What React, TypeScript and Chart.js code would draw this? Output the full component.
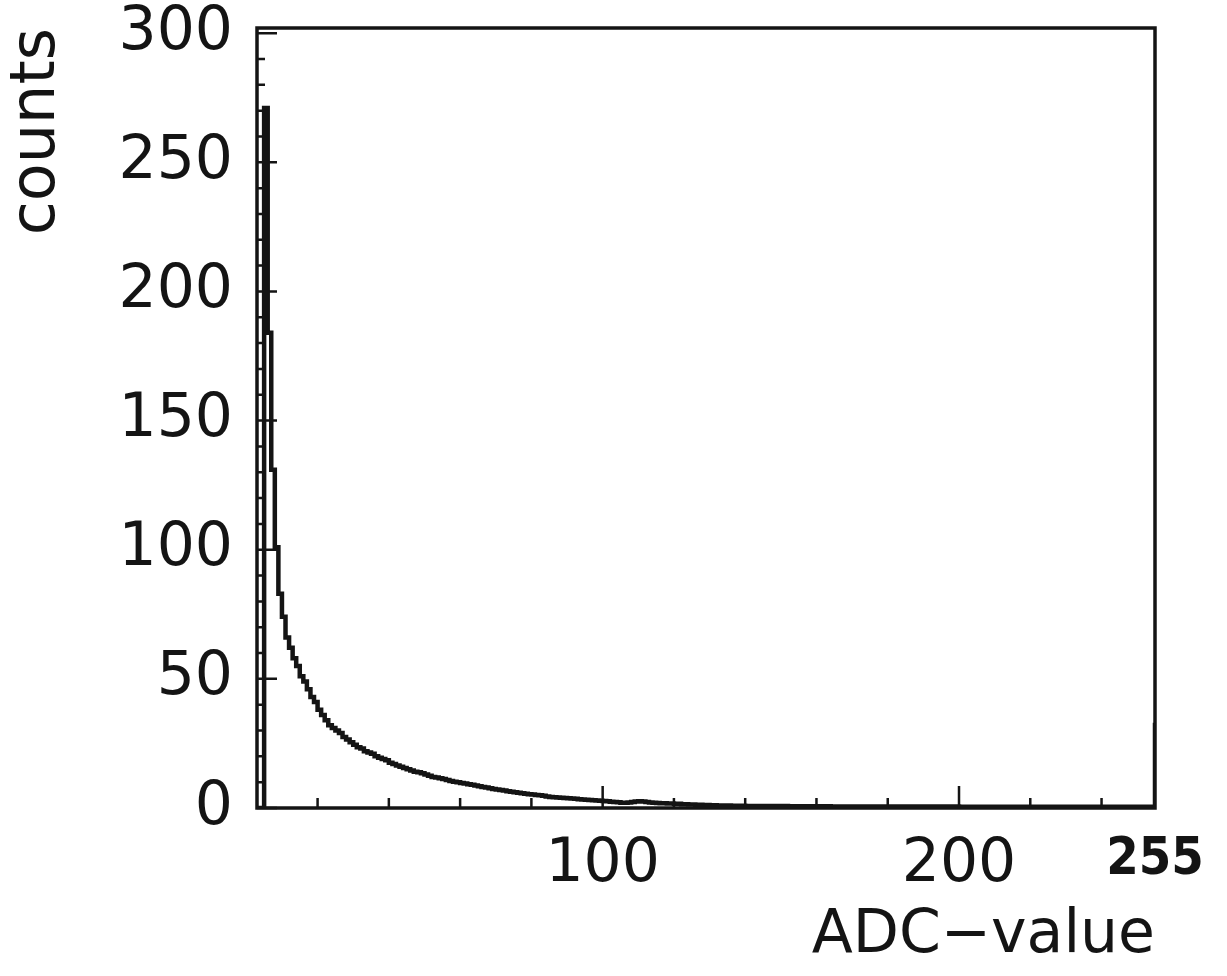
import React, { useEffect, useRef } from 'react';
import { Chart, registerables } from 'chart.js';

Chart.register(...registerables);

// ---- data ----
const ADC_MIN = 3;
const ADC_MAX = 255;
const Y_MAX = 302;

// counts per ADC channel 0..255
const COUNTS: number[] = [
  0, 0, 0, 0, 0, 271, 184, 131, 101, 83,
  74, 66, 62, 58, 55, 51, 49, 46, 43, 41,
  38, 36, 34, 32, 31, 30, 29, 27.5, 26.5, 25.5,
  24.5, 23.5, 23, 22, 21.5, 21, 20, 19.5, 19, 18.5,
  17.5, 17, 16.5, 16, 15.5, 15, 14.5, 14, 13.8, 13.5,
  13, 12.5, 12, 11.8, 11.5, 11.2, 10.8, 10.5, 10.2, 10,
  9.7, 9.5, 9.2, 9, 8.7, 8.4, 8.1, 7.9, 7.6, 7.4,
  7.2, 7, 6.8, 6.5, 6.3, 6.1, 5.9, 5.7, 5.5, 5.3,
  5.2, 5, 4.9, 4.7, 4.5, 4.3, 4.2, 4.1, 4, 3.9,
  3.8, 3.7, 3.6, 3.4, 3.3, 3.2, 3.1, 3, 2.9, 2.8,
  2.7, 2.6, 2.4, 2.3, 2.2, 2, 2, 2.1, 2.3, 2.5,
  2.6, 2.5, 2.3, 2.1, 2, 1.9, 1.8, 1.8, 1.7, 1.7,
  1.6, 1.6, 1.5, 1.5, 1.4, 1.4, 1.3, 1.3, 1.2, 1.2,
  1.1, 1.1, 1, 1, 1, 1, 0.9, 0.9, 0.9, 0.9,
  0.8, 0.8, 0.8, 0.8, 0.8, 0.8, 0.8, 0.8, 0.8, 0.8,
  0.8, 0.8, 0.7, 0.7, 0.7, 0.7, 0.7, 0.7, 0.7, 0.7,
  0.7, 0.7, 0.7, 0.7, 0.6, 0.6, 0.6, 0.6, 0.6, 0.6,
  0.6, 0.6, 0.6, 0.6, 0.6, 0.6, 0.6, 0.6, 0.6, 0.6,
  0.6, 0.6, 0.6, 0.6, 0.6, 0.6, 0.6, 0.6, 0.6, 0.6,
  0.6, 0.6, 0.6, 0.6, 0.6, 0.6, 0.6, 0.6, 0.6, 0.6,
  0.5, 0.5, 0.5, 0.5, 0.5, 0.5, 0.5, 0.5, 0.5, 0.5,
  0.5, 0.5, 0.5, 0.5, 0.5, 0.5, 0.5, 0.5, 0.5, 0.5,
  0.5, 0.5, 0.5, 0.5, 0.5, 0.5, 0.5, 0.5, 0.5, 0.5,
  0.5, 0.5, 0.5, 0.5, 0.5, 0.5, 0.5, 0.5, 0.5, 0.5,
  0.5, 0.5, 0.5, 0.5, 0.5, 0.5, 0.5, 0.5, 0.5, 0.5,
  0.5, 0.5, 0.5, 0.5, 0.5, 33,
];

const X_TICKS = [20, 40, 60, 80, 100, 120, 140, 160, 180, 200, 220, 240, 255];
const X_LABELS = [100, 200, 255];
const Y_TICK_STEP = 10;
const Y_LABELS = [0, 50, 100, 150, 200, 250, 300];

const X_TITLE = 'ADC\u2212value';
const Y_TITLE = 'counts';

const INK = '#141414';
const FONT = '"DejaVu Sans", sans-serif';

const frameAndTicks = {
  id: 'frameAndTicks',
  afterDatasetsDraw(chart: any) {
    const { ctx, chartArea: a, scales } = chart;
    ctx.save();
    ctx.strokeStyle = INK;
    ctx.lineWidth = 3.5;
    ctx.strokeRect(a.left, a.top, a.right - a.left, a.bottom - a.top);
    ctx.lineWidth = 2.5;
    ctx.beginPath();
    scales.y.ticks.forEach((t: any) => {
      const y = scales.y.getPixelForValue(t.value);
      const len = t.value % 50 === 0 ? 20 : 8;
      ctx.moveTo(a.left, y);
      ctx.lineTo(a.left + len, y);
    });
    scales.x.ticks.forEach((t: any) => {
      if (t.value >= ADC_MAX) return;
      const x = scales.x.getPixelForValue(t.value);
      const len = t.value % 100 === 0 ? 22 : 10;
      ctx.moveTo(x, a.bottom);
      ctx.lineTo(x, a.bottom - len);
    });
    ctx.stroke();
    ctx.restore();
  },
};

export default function App() {
  const ref = useRef<HTMLCanvasElement | null>(null);

  useEffect(() => {
    if (!ref.current) return;
    const points: { x: number; y: number }[] = [];
    for (let i = ADC_MIN; i < COUNTS.length; i++) points.push({ x: i, y: COUNTS[i] });
    points.push({ x: COUNTS.length, y: COUNTS[COUNTS.length - 1] });

    const chart = new Chart(ref.current, {
      type: 'line',
      data: {
        datasets: [
          {
            data: points,
            stepped: 'before',
            borderColor: INK,
            borderWidth: 4.5,
            pointRadius: 0,
            fill: false,
            tension: 0,
          },
        ],
      },
      options: {
        responsive: false,
        animation: false,
        events: [],
        layout: { padding: { top: 28, right: 72, left: 0, bottom: 0 } },
        plugins: {
          legend: { display: false },
          tooltip: { enabled: false },
        },
        scales: {
          x: {
            type: 'linear',
            min: ADC_MIN,
            max: ADC_MAX,
            afterBuildTicks: (s: any) => {
              s.ticks = X_TICKS.map((v) => ({ value: v }));
            },
            afterFit: (s: any) => {
              s.height = 168;
              s.paddingLeft = 0;
              s.paddingRight = 0;
            },
            grid: { display: false, drawTicks: false },
            border: { display: false },
            ticks: {
              autoSkip: false,
              maxRotation: 0,
              padding: 21,
              color: INK,
              font: (c: any) =>
                c.tick && c.tick.value === 255
                  ? { family: '"DejaVu Sans Condensed", "DejaVu Sans", sans-serif', size: 52, weight: 'bold' }
                  : { family: FONT, size: 60 },
              callback: (v: any) => (X_LABELS.includes(Number(v)) ? String(v) : ''),
            },
            title: {
              display: true,
              text: X_TITLE,
              align: 'end',
              color: INK,
              font: { family: FONT, size: 60 },
              padding: { top: 0, bottom: 4 },
            },
          },
          y: {
            type: 'linear',
            min: 0,
            max: Y_MAX,
            afterBuildTicks: (s: any) => {
              const t: { value: number }[] = [];
              for (let v = 0; v <= 300; v += Y_TICK_STEP) t.push({ value: v });
              s.ticks = t;
            },
            afterFit: (s: any) => {
              s.width = 257;
              s.paddingTop = 0;
              s.paddingBottom = 0;
            },
            grid: { display: false, drawTicks: false },
            border: { display: false },
            ticks: {
              autoSkip: false,
              padding: 24,
              color: INK,
              font: { family: FONT, size: 60 },
              callback: (v: any) => (Y_LABELS.includes(Number(v)) ? String(v) : ''),
            },
            title: {
              display: true,
              text: Y_TITLE,
              align: 'end',
              color: INK,
              font: { family: FONT, size: 62 },
              padding: { top: 1, bottom: 0 },
            },
          },
        },
      },
      plugins: [frameAndTicks],
    });
    return () => chart.destroy();
  }, []);

  return (
    <div style={{ position: 'fixed', left: 0, top: 0, width: 1227, height: 976, background: '#fff' }}>
      <canvas ref={ref} width={1227} height={976} />
    </div>
  );
}
